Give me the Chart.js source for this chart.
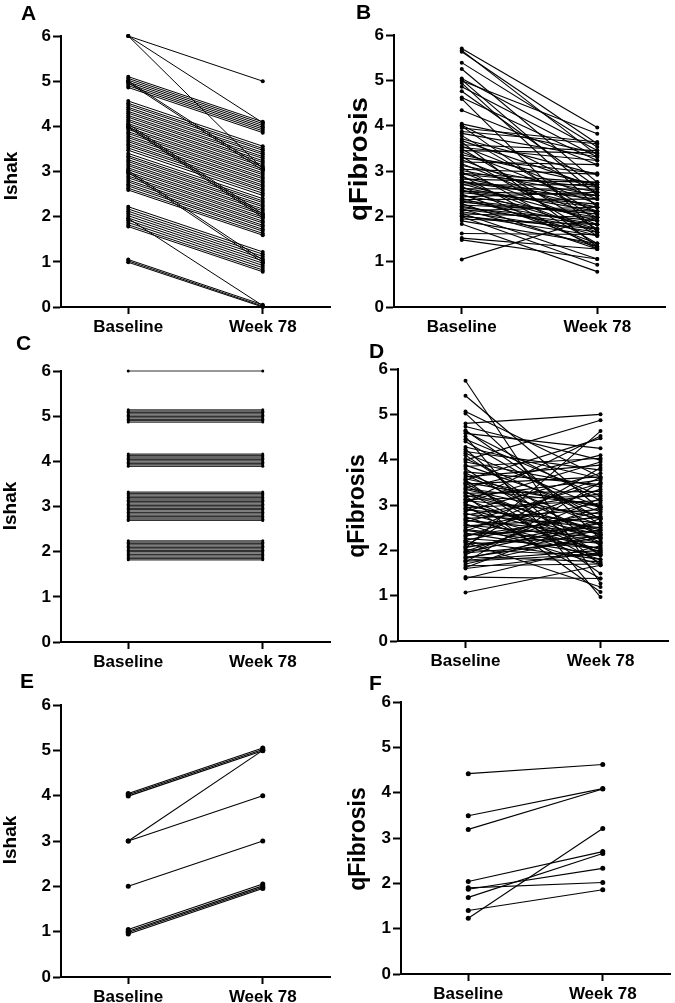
<!DOCTYPE html>
<html><head><meta charset="utf-8">
<script src="https://cdn.jsdelivr.net/npm/chart.js@4.4.0/dist/chart.umd.min.js"></script>
<style>
html,body{margin:0;padding:0;background:#fff;width:675px;height:1003px;overflow:hidden;position:relative;font-family:'Liberation Sans',Arial,sans-serif;}
canvas{position:absolute;}
.lbl{position:absolute;font-weight:bold;color:#000;white-space:nowrap;line-height:1;font-size:21px;}
.yt{position:absolute;font-weight:bold;color:#000;white-space:nowrap;line-height:1;}
</style></head><body>
<canvas id="cA" width="340" height="340" style="left:0;top:0"></canvas>
<canvas id="cB" width="335" height="340" style="left:340px;top:0"></canvas>
<canvas id="cC" width="340" height="340" style="left:0;top:335px"></canvas>
<canvas id="cD" width="335" height="340" style="left:340px;top:335px"></canvas>
<canvas id="cE" width="340" height="335" style="left:0;top:668px"></canvas>
<canvas id="cF" width="335" height="335" style="left:340px;top:668px"></canvas>

<div class="lbl" style="left:21px;top:2px">A</div>
<div class="lbl" style="left:356px;top:1px">B</div>
<div class="lbl" style="left:16px;top:332px">C</div>
<div class="lbl" style="left:369px;top:340px">D</div>
<div class="lbl" style="left:20px;top:670px">E</div>
<div class="lbl" style="left:369px;top:672px">F</div>

<div class="yt" style="left:10px;top:176px;font-size:19px;transform:translate(-50%,-50%) rotate(-90deg)">Ishak</div>
<div class="yt" style="left:358px;top:159px;font-size:25px;transform:translate(-50%,-50%) rotate(-90deg) scaleX(1.1)">qFibrosis</div>
<div class="yt" style="left:9px;top:506px;font-size:19px;transform:translate(-50%,-50%) rotate(-90deg)">Ishak</div>
<div class="yt" style="left:356px;top:506px;font-size:23px;transform:translate(-50%,-50%) rotate(-90deg)">qFibrosis</div>
<div class="yt" style="left:9px;top:840px;font-size:19px;transform:translate(-50%,-50%) rotate(-90deg)">Ishak</div>
<div class="yt" style="left:357px;top:839px;font-size:23px;transform:translate(-50%,-50%) rotate(-90deg)">qFibrosis</div>

<script>
const categories = ['Baseline', 'Week 78'];
const yTickMin = 0, yTickMax = 6, yTickStep = 1;

// Panel A: Ishak
const aBaseline = [6.00, 6.00, 6.00,
 5.10, 5.06, 5.02, 4.98, 4.94, 4.90, 4.86,
 5.00, 4.97,
 4.56, 4.51, 4.47, 4.42, 4.38, 4.33, 4.29, 4.24, 4.20, 4.15, 4.11, 4.06, 4.02, 3.97, 3.93, 3.88, 3.84, 3.79, 3.75, 3.70, 3.66, 3.61, 3.57, 3.52, 3.47,
 4.05, 4.01, 3.98,
 3.40, 3.35, 3.31, 3.26, 3.22, 3.17, 3.13, 3.08, 3.04, 2.99, 2.95, 2.90, 2.86, 2.81, 2.77, 2.72, 2.68, 2.63, 2.59,
 3.02, 2.98,
 2.22, 2.17, 2.12, 2.07, 2.02, 1.97, 1.92, 1.87, 1.82, 1.78,
 1.96,
 1.05, 1.02, 0.99];
const aWeek78 = [5.00, 4.08, 3.06,
 4.10, 4.06, 4.02, 3.98, 3.94, 3.90, 3.86,
 3.08, 3.03,
 3.56, 3.51, 3.47, 3.42, 3.38, 3.33, 3.29, 3.24, 3.20, 3.15, 3.11, 3.06, 3.02, 2.97, 2.93, 2.88, 2.84, 2.79, 2.75, 2.70, 2.66, 2.61, 2.57, 2.52, 2.47,
 2.06, 2.02, 1.98,
 2.40, 2.35, 2.31, 2.26, 2.22, 2.17, 2.13, 2.08, 2.04, 1.99, 1.95, 1.90, 1.86, 1.81, 1.77, 1.72, 1.68, 1.63, 1.59,
 1.04, 0.99,
 1.22, 1.17, 1.12, 1.07, 1.02, 0.97, 0.92, 0.87, 0.82, 0.78,
 0.03,
 0.05, 0.02, 0.00];

// Panel B: qFibrosis
const bBaseline = [5.70,5.66,5.63,5.39,5.25,5.04,5.01,4.99,4.94,4.86,4.76,4.62,4.59,4.34,4.04,4.01,3.99,3.87,3.78,3.71,3.64,3.58,3.55,3.49,3.45,3.42,3.36,3.32,3.25,3.20,3.16,3.12,3.08,3.04,3.01,2.97,2.93,2.90,2.86,2.82,2.79,2.75,2.72,2.69,2.66,2.63,2.61,2.58,2.55,2.52,2.49,2.46,2.43,2.40,2.37,2.34,2.31,2.28,2.25,2.22,2.19,2.16,2.13,2.10,2.07,2.05,2.02,1.99,1.94,1.90,1.83,1.62,1.52,1.48,1.05,3.95,3.83,3.67,3.52,3.29,2.95,2.77,2.57,2.35,2.15,2.00];
const bWeek78 = [3.96,3.35,3.60,3.53,2.75,3.45,2.46,3.82,2.20,3.31,2.64,3.23,1.65,3.14,3.39,2.53,1.90,3.60,2.05,2.92,1.33,3.45,2.38,1.72,3.40,2.27,2.70,1.57,2.11,3.14,1.98,2.53,1.40,2.93,2.46,1.82,2.64,1.28,2.20,2.75,1.65,2.38,1.90,2.70,1.33,2.11,2.60,1.72,2.46,2.27,1.40,1.98,2.53,1.57,2.38,1.82,2.05,1.28,2.11,1.72,1.90,1.33,2.20,1.65,1.06,1.98,1.57,0.93,1.82,1.40,0.78,1.60,1.28,1.06,1.98,3.64,3.31,2.64,3.23,2.95,2.75,2.46,2.20,2.05,1.82,1.72];

// Panel C: Ishak (unchanged)
const cBaseline = [6.00, 5.14,5.11,5.08,5.05,5.02,4.99,4.96,4.93,4.90,4.87, 4.16,4.13,4.10,4.07,4.04,4.01,3.98,3.95,3.92,3.89, 3.32,3.29,3.26,3.23,3.20,3.17,3.14,3.11,3.08,3.05,3.02,2.99,2.96,2.93,2.90,2.87,2.84,2.81,2.78,2.75,2.72,2.69, 2.24,2.21,2.18,2.15,2.12,2.09,2.06,2.03,2.00,1.97,1.94,1.91,1.88,1.85,1.82];
const cWeek78 = [6.00, 5.14,5.11,5.08,5.05,5.02,4.99,4.96,4.93,4.90,4.87, 4.16,4.13,4.10,4.07,4.04,4.01,3.98,3.95,3.92,3.89, 3.32,3.29,3.26,3.23,3.20,3.17,3.14,3.11,3.08,3.05,3.02,2.99,2.96,2.93,2.90,2.87,2.84,2.81,2.78,2.75,2.72,2.69, 2.24,2.21,2.18,2.15,2.12,2.09,2.06,2.03,2.00,1.97,1.94,1.91,1.88,1.85,1.82];

// Panel D: qFibrosis
const dBaseline = [5.74,5.41,5.06,5.02,4.80,4.73,4.65,4.58,4.51,4.45,4.23,4.18,4.10,2.05,3.05,3.55,3.99,3.88,3.80,3.73,3.66,3.62,3.55,3.50,3.46,3.42,3.38,3.34,3.30,3.26,3.22,3.18,3.14,3.10,3.06,3.02,2.98,2.94,2.90,2.86,2.82,2.78,2.74,2.70,2.66,2.62,2.58,2.54,2.50,2.46,2.42,2.38,2.34,2.30,2.26,2.22,2.18,2.14,2.10,2.06,2.02,1.98,1.94,1.90,1.86,1.82,1.78,1.74,1.70,1.66,1.62,1.60,1.41,1.38,1.07,4.02,3.95,3.70,3.58,3.48,3.36,3.28,3.20,3.12,3.00,2.92,2.80,2.68,2.56,2.44,2.32,2.20,2.08,1.96,1.84,1.76,4.62,4.40,4.28,3.85,4.14];
const dWeek78 = [1.27,2.90,3.62,2.25,5.00,3.99,2.55,4.25,0.97,3.20,1.67,3.77,2.10,4.63,4.52,4.47,4.87,2.85,1.90,3.45,2.33,3.88,1.49,2.98,3.62,2.18,4.10,2.70,1.72,3.30,2.45,3.55,1.95,2.80,3.95,2.25,1.38,3.10,2.60,3.70,2.02,3.25,1.80,2.90,2.38,3.48,1.68,2.72,3.05,2.15,3.60,1.90,2.50,3.35,2.05,2.85,1.19,2.30,3.82,2.62,1.88,2.95,2.20,3.15,1.75,2.45,2.00,3.50,2.35,1.70,2.70,1.95,1.38,2.10,1.67,2.70,3.40,2.55,2.95,1.90,3.00,2.40,1.08,3.20,2.35,2.15,2.50,1.98,2.28,2.05,2.75,1.80,2.45,2.60,2.28,1.92,3.10,2.68,3.58,4.03,2.95];

// Panel E: Ishak
const eBaseline = [4.05, 4.02, 3.99, 3.00, 3.00, 2.00, 1.05, 1.01, 0.98, 0.95];
const eWeek78  = [5.05, 5.02, 4.99, 5.00, 4.00, 3.00, 2.05, 2.01, 1.98, 1.95];

// Panel F: qFibrosis
const fBaseline = [4.42, 3.49, 3.19, 2.04, 1.90, 1.87, 1.69, 1.40, 1.23];
const fWeek78  = [4.62, 4.09, 4.08, 2.70, 2.02, 2.33, 2.66, 1.86, 3.21];

const FONT = "'Liberation Sans', Arial, sans-serif";

function makePanel(id, box, area, base, wk, st) {
  const yW = area.l - box.x;
  const padR = box.x + box.w - area.r;
  const padT = area.t - box.y;
  const xH = box.y + box.h - area.b;
  const datasets = base.map((b, i) => ({
    data: [b, wk[i]],
    borderColor: st.line,
    borderWidth: st.lw,
    pointRadius: st.pr,
    pointBackgroundColor: '#000',
    pointBorderWidth: 0,
    pointHoverRadius: st.pr,
    clip: false,
    tension: 0
  }));
  new Chart(document.getElementById(id), {
    type: 'line',
    data: { labels: categories, datasets },
    options: {
      responsive: false, animation: false, devicePixelRatio: 1,
      layout: { padding: { left: 0, right: padR, top: padT, bottom: 0 } },
      plugins: { legend: { display: false }, tooltip: { enabled: false }, title: { display: false } },
      events: [],
      scales: {
        x: {
          type: 'category', offset: true,
          grid: { display: true, drawOnChartArea: false, drawTicks: true, tickLength: 7, tickWidth: 2, tickColor: '#000', offset: false, color: '#000' },
          border: { display: true, color: '#000', width: 2 },
          ticks: { color: '#000', font: { family: FONT, size: 17, weight: 'bold' }, padding: 3, maxRotation: 0, autoSkip: false },
          afterFit: s => { s.height = xH; }
        },
        y: {
          min: yTickMin, max: yTickMax,
          grid: { display: true, drawOnChartArea: false, drawTicks: true, tickLength: 8, tickWidth: 2, tickColor: '#000', color: '#000' },
          border: { display: true, color: '#000', width: 2 },
          ticks: { stepSize: yTickStep, color: '#000', font: { family: FONT, size: 17, weight: 'bold' }, padding: 2 },
          afterFit: s => { s.width = yW; }
        }
      }
    }
  });
}

makePanel('cA', {x:0, y:0, w:340, h:340}, {l:61, r:330, t:36, b:307}, aBaseline, aWeek78, {line:'#000', lw:1, pr:2});
makePanel('cB', {x:340, y:0, w:335, h:340}, {l:394, r:665, t:35, b:307}, bBaseline, bWeek78, {line:'#000', lw:1.1, pr:2});
makePanel('cC', {x:0, y:335, w:340, h:340}, {l:61, r:330, t:371, b:642}, cBaseline, cWeek78, {line:'#333', lw:1.2, pr:1.5});
makePanel('cD', {x:340, y:335, w:335, h:340}, {l:398, r:668, t:369, b:641}, dBaseline, dWeek78, {line:'#000', lw:1.1, pr:2});
makePanel('cE', {x:0, y:668, w:340, h:335}, {l:61, r:330, t:705, b:977}, eBaseline, eWeek78, {line:'#000', lw:1.1, pr:2.5});
makePanel('cF', {x:340, y:668, w:335, h:335}, {l:401, r:670, t:702, b:974}, fBaseline, fWeek78, {line:'#000', lw:1.1, pr:2.5});
</script>
</body></html>
